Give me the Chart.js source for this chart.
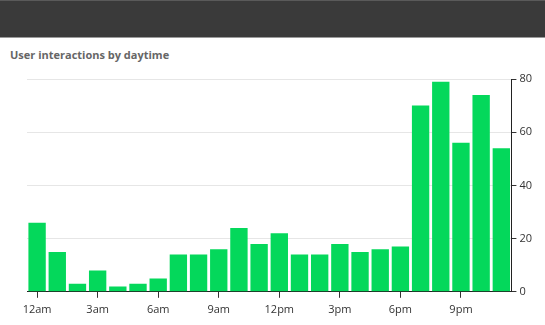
<!DOCTYPE html>
<html>
<head>
<meta charset="utf-8">
<script src="https://cdn.jsdelivr.net/npm/chart.js@4/dist/chart.umd.min.js"></script>
<style>
  html, body { margin: 0; padding: 0; background: #fff; }
  body { width: 545px; height: 325px; position: relative; overflow: hidden; font-family: "Open Sans", sans-serif; }
  .topbar { position: absolute; left: 0; top: 0; width: 545px; height: 36px; background: #3a3a3a; border-top: 1px solid #5a5a5a; border-bottom: 1px solid #9a9a9a; }
  .title { position: absolute; left: 10px; top: 47px; font-size: 11px; font-weight: bold; color: #666; }
  .chart-box { position: absolute; left: 0; top: 66px; width: 545px; height: 259px; }
</style>
</head>
<body>
<div class="topbar"></div>
<div class="title">User interactions by daytime</div>
<div class="chart-box"><canvas id="dayChart"></canvas></div>
<script>
// Hourly interaction counts, midnight to 11pm
const hours = ['12am', '1am', '2am', '3am', '4am', '5am', '6am', '7am', '8am', '9am', '10am', '11am',
  '12pm', '1pm', '2pm', '3pm', '4pm', '5pm', '6pm', '7pm', '8pm', '9pm', '10pm', '11pm'];
const interactions = [26, 15, 3, 8, 2, 3, 5, 14, 14, 16, 24, 18, 22, 14, 14, 18, 15, 16, 17, 70, 79, 56, 74, 54];
const yTicks = [0, 20, 40, 60, 80];

function initChart() {
  const ctx = document.getElementById('dayChart').getContext('2d');

  new Chart(ctx, {
    type: 'bar',
    data: {
      labels: hours,
      datasets: [{
        data: interactions,
        backgroundColor: '#04d85b',
        barPercentage: 0.86,
        categoryPercentage: 1.0
      }]
    },
    options: {
      responsive: true,
      maintainAspectRatio: false,
      animation: false,
      layout: { padding: { left: 27, right: 10, top: 13, bottom: 4 } },
      plugins: {
        legend: { display: false },
        tooltip: { enabled: false }
      },
      scales: {
        x: {
          grid: { offset: false, drawOnChartArea: false, tickLength: 6, tickColor: '#333' },
          border: { color: '#222', width: 1 },
          ticks: {
            autoSkip: false,
            maxRotation: 0,
            color: '#333',
            font: { family: 'Open Sans', size: 11 },
            padding: 5,
            // label every third hour only
            callback: (val, i) => (i % 3 === 0 ? hours[i] : null)
          }
        },
        y: {
          position: 'right',
          min: 0,
          max: 80,
          afterBuildTicks: axis => { axis.ticks = yTicks.map(v => ({ value: v })); },
          grid: { color: '#e6e6e6', tickColor: '#333', tickLength: 5 },
          border: { color: '#222', width: 1 },
          ticks: {
            color: '#333',
            font: { family: 'Open Sans', size: 11 },
            padding: 3
          }
        }
      }
    }
  });
}

document.addEventListener('DOMContentLoaded', initChart);
</script>
</body>
</html>
